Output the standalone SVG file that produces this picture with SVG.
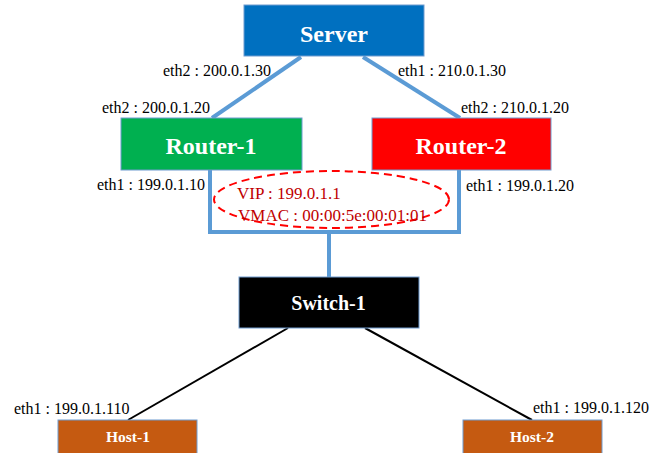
<svg xmlns="http://www.w3.org/2000/svg" width="662" height="453" viewBox="0 0 662 453">
<style>
.box{stroke:#6F9BCF;stroke-width:1}
.title{font-family:"Liberation Serif",serif;font-weight:bold;fill:#fff;text-anchor:middle}
.lbl{font-family:"Liberation Serif",serif;font-size:16px;fill:#000}
.vip{font-family:"Liberation Serif",serif;font-size:17px;fill:#C00000}
.blue{stroke:#5B9BD5;stroke-width:4;fill:none}
.blk{stroke:#000;stroke-width:2;fill:none}
</style>
<rect width="662" height="453" fill="#fff"/>
<g id="connectors">
<line class="blue" x1="301" y1="57" x2="212" y2="118"/>
<line class="blue" x1="363" y1="57" x2="460" y2="118"/>
<polyline class="blue" points="210,170 210,232 459,232 459,170"/>
<line class="blue" x1="329" y1="232" x2="329" y2="277"/>
<line class="blk" x1="288" y1="328" x2="128" y2="420"/>
<line class="blk" x1="365" y1="328" x2="532" y2="420"/>
</g>
<g id="server">
<rect class="box" x="244" y="5" width="180" height="51" fill="#0070C0"/>
<text class="title" x="334" y="42" font-size="24">Server</text>
</g>
<g id="router1">
<rect class="box" x="121" y="118" width="181" height="52" fill="#00B050"/>
<text class="title" x="211" y="154" font-size="24">Router-1</text>
</g>
<g id="router2">
<rect class="box" x="372" y="118" width="179" height="52" fill="#FF0000"/>
<text class="title" x="461" y="154" font-size="24">Router-2</text>
</g>
<g id="switch1">
<rect class="box" x="239" y="277" width="180" height="51" fill="#000"/>
<text class="title" x="328.5" y="310" font-size="20">Switch-1</text>
</g>
<g id="host1">
<rect class="box" x="58" y="420" width="139" height="40" fill="#C55A11"/>
<text class="title" x="128" y="442" font-size="15.5">Host-1</text>
</g>
<g id="host2">
<rect class="box" x="463" y="420" width="139" height="40" fill="#C55A11"/>
<text class="title" x="532" y="442" font-size="15.5">Host-2</text>
</g>
<g id="vip">
<ellipse cx="331.5" cy="199.5" rx="117.5" ry="28.5" fill="none" stroke="#FF0000" stroke-width="2" stroke-dasharray="8,5"/>
<text class="vip" x="237" y="199">VIP : 199.0.1.1</text>
<text class="vip" x="238" y="221">VMAC : 00:00:5e:00:01:01</text>
</g>
<g id="labels">
<text class="lbl" x="163" y="76">eth2 : 200.0.1.30</text>
<text class="lbl" x="398" y="76">eth1 : 210.0.1.30</text>
<text class="lbl" x="102" y="113">eth2 : 200.0.1.20</text>
<text class="lbl" x="461" y="113">eth2 : 210.0.1.20</text>
<text class="lbl" x="97" y="190">eth1 : 199.0.1.10</text>
<text class="lbl" x="466" y="191">eth1 : 199.0.1.20</text>
<text class="lbl" x="14" y="414">eth1 : 199.0.1.110</text>
<text class="lbl" x="533" y="413">eth1 : 199.0.1.120</text>
</g>
</svg>
